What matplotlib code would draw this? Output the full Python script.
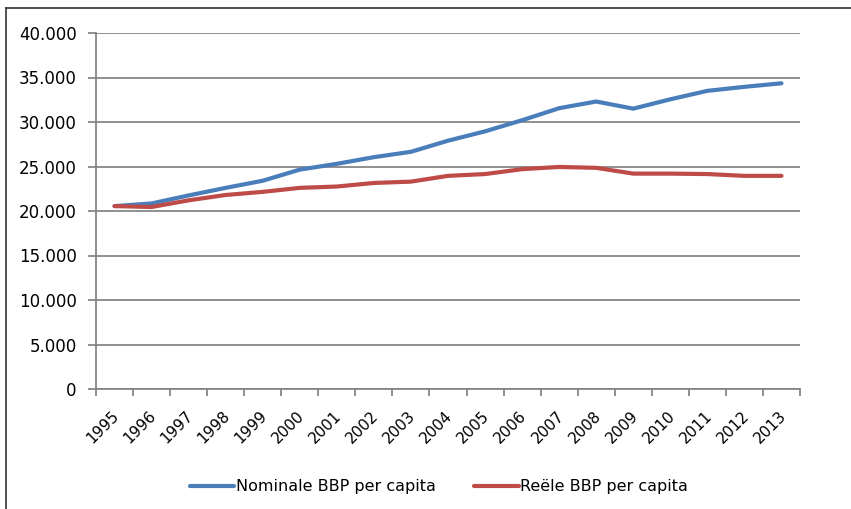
import numpy as np
import matplotlib
matplotlib.use("Agg")
import matplotlib.pyplot as plt
from matplotlib.lines import Line2D
from matplotlib.ticker import FuncFormatter, MultipleLocator
from matplotlib.transforms import ScaledTranslation

# BBP per capita, 1995-2013
years = [str(y) for y in range(1995, 2014)]
nominaal = [20550, 20850, 21750, 22600, 23400, 24650, 25300, 26050, 26650,
            27900, 28950, 30200, 31550, 32300, 31500, 32550, 33500, 33950, 34350]
reeel = [20550, 20450, 21200, 21800, 22150, 22600, 22750, 23150, 23300,
         23950, 24150, 24700, 24950, 24850, 24200, 24200, 24150, 23950, 23950]

plt.rcParams['font.family'] = ['DejaVu Sans']

fig = plt.figure(figsize=(8.51, 5.09), dpi=100)
ax = fig.add_axes([96/851, 1 - 389/509, 704/851, 356/509])

x = np.arange(len(years))
ax.plot(x, nominaal, color='#4A7EBB', lw=3, solid_capstyle='round', label='Nominale BBP per capita')
ax.plot(x, reeel, color='#BE4B48', lw=3, solid_capstyle='round', label='Reële BBP per capita')

ax.set_xlim(-0.5, len(years) - 0.5)
ax.set_ylim(0, 40000)
ax.yaxis.set_major_locator(MultipleLocator(5000))
ax.yaxis.set_major_formatter(FuncFormatter(lambda v, p: f"{int(v):,}".replace(',', '.')))
ax.grid(axis='y', color='#878787', lw=1.3)
ax.set_axisbelow(True)

ax.set_xticks(x)
ax.set_xticklabels(years, rotation=45, ha='right', rotation_mode='anchor')
ax.set_xticks(np.arange(-0.5, len(years)), minor=True)
ax.tick_params(axis='x', which='major', length=0, pad=14, labelsize=11)
ax.tick_params(axis='x', which='minor', length=5, width=1.3, color='#878787')
ax.tick_params(axis='y', length=6, width=1.3, color='#878787', labelsize=12, pad=8)

# nudge year labels a little to the left
shift = ScaledTranslation(-3/100, 0, fig.dpi_scale_trans)
for lbl in ax.get_xticklabels():
    lbl.set_transform(lbl.get_transform() + shift)

for s in ['top', 'right']:
    ax.spines[s].set_visible(False)
for s in ['left', 'bottom']:
    ax.spines[s].set_color('#878787')
    ax.spines[s].set_linewidth(1.3)

fig.legend(loc='center', bbox_to_anchor=(439/851, 1 - 487/509), ncol=2, frameon=False,
           fontsize=11.5, handlelength=2.8, handletextpad=0.1, columnspacing=2.4)

# outer frame
fig.add_artist(Line2D([6/851, 6/851], [0, 1 - 8/509], color='#333333', lw=1.2))
fig.add_artist(Line2D([6/851, 1], [1 - 8/509, 1 - 8/509], color='#333333', lw=1.2))

fig.savefig('out.png', dpi=100)
